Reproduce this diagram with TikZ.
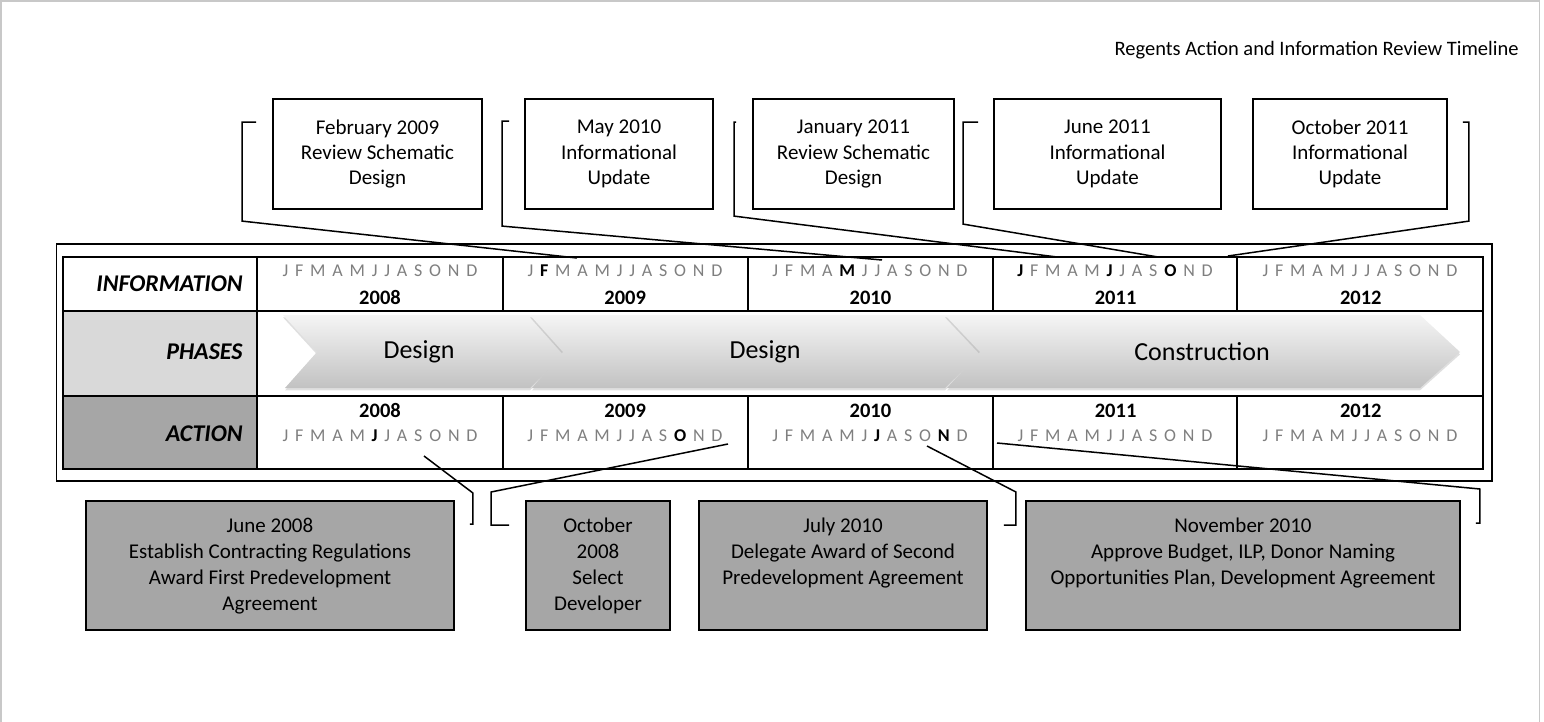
\documentclass[tikz,border=0pt]{standalone}
\usepackage{fontspec}
\setmainfont{Carlito}
\usetikzlibrary{shadows}
\definecolor{mgray}{HTML}{7F7F7F}
\definecolor{actgray}{HTML}{A6A6A6}
\definecolor{phgray}{HTML}{D9D9D9}
\definecolor{framegray}{HTML}{C8C8C8}
% month letters: gray, spaced, highlighted ones bold black
\newcommand\mgap{\hspace{3.4pt}}
\newcommand\mhi[1]{{\color{black}\bfseries #1}}
\newcommand\mrow[1]{\foreach \mth [count=\mno] in {#1}{\ifnum\mno>1 \mgap\fi\mth}}
% action box text, first line at a fixed depth from the top
\newcommand\acttext[2]{\parbox[c][64.5pt][t]{#1}{\centering\rule{0pt}{16pt}#2}}
\tikzset{
  tbl/.style={line width=0.9pt},
  infobox/.style={draw,line width=0.9pt,fill=white,align=center,inner sep=0pt,minimum height=55pt,
    font=\fontsize{10.5}{12.6}\selectfont},
  actbox/.style={draw,line width=0.9pt,fill=actgray,inner sep=0pt,anchor=north,
    font=\fontsize{10.5}{12.9}\selectfont},
  months/.style={font=\fontsize{9}{10}\selectfont,text=mgray,inner sep=0pt},
  yearlbl/.style={font=\fontsize{10.25}{12}\selectfont\bfseries,inner sep=0pt},
  rowlbl/.style={font=\fontsize{12}{14}\selectfont\bfseries\itshape,anchor=east,inner sep=0pt},
  phase/.style={font=\fontsize{13}{15}\selectfont,inner sep=0pt},
  chevron/.style={top color=white!96!black,bottom color=white!76!black,
    drop shadow={shadow xshift=0pt,shadow yshift=-1.2pt,opacity=.25}},
  bracket/.style={line width=0.75pt},
}
\begin{document}
\begin{tikzpicture}[x=0.5pt,y=-0.5pt]
\useasboundingbox (0,0) rectangle (1544,722);
% page frame
\draw[framegray,line width=0.8pt] (1,722) -- (1,1) -- (1539.5,1) -- (1539.5,722);
\node[anchor=base east,inner sep=0pt,font=\fontsize{10.25}{12}\selectfont] (title) at (1519,56) {Regents Action and Information Review Timeline};

% timeline table
\draw[tbl] (56.5,244) rectangle (1492,481);
\fill[phgray] (63,311) rectangle (257,396);
\fill[actgray] (63,396) rectangle (257,469);
\draw[tbl] (63,257) rectangle (1483,469);
\draw[tbl] (63,311) -- (1483,311) (63,396) -- (1483,396) (257,257) -- (257,469);
\foreach \x in {503,748,993,1237} {\draw[tbl] (\x,257) -- (\x,311) (\x,396) -- (\x,469);}
\node[rowlbl] (hinfo) at (243,284) {INFORMATION};
\node[rowlbl] (hphase) at (243,352) {PHASES};
\node[rowlbl] (hact) at (243,434) {ACTION};

% phase chevrons
\path[chevron] (283,315) -- (530,315) -- (567,352) -- (530,388) -- (285,388) -- (317,352) -- cycle;
\path[chevron] (530,315) -- (945,315) -- (982,352) -- (945,388) -- (532,388) -- (563,352) -- cycle;
\path[chevron] (945,315) -- (1420,315) -- (1460,352) -- (1420,388) -- (947,388) -- (980,352) -- cycle;
\node[phase] (ph1) at (419,352) {Design};
\node[phase] (ph2) at (765,352) {Design};
\node[phase] (ph3) at (1202,352) {Construction};

% years and months
\foreach \yr [count=\c from 0] in {2008,2009,2010,2011,2012} {
  \node[yearlbl,anchor=base] (iy\yr) at (380+245.2*\c,305) {\yr};
  \node[yearlbl,anchor=base] (ay\yr) at (380+245.2*\c,417) {\yr};
}
\node[months] (im08) at (380,271) {\mrow{J,F,M,A,M,J,J,A,S,O,N,D}};
\node[months] (im09) at (625,271) {\mrow{J,\mhi{F},M,A,M,J,J,A,S,O,N,D}};
\node[months] (im10) at (870,271) {\mrow{J,F,M,A,\mhi{M},J,J,A,S,O,N,D}};
\node[months] (im11) at (1115,271) {\mrow{\mhi{J},F,M,A,M,\mhi{J},J,A,S,\mhi{O},N,D}};
\node[months] (im12) at (1360,271) {\mrow{J,F,M,A,M,J,J,A,S,O,N,D}};
\node[months] (am08) at (380,436) {\mrow{J,F,M,A,M,\mhi{J},J,A,S,O,N,D}};
\node[months] (am09) at (625,436) {\mrow{J,F,M,A,M,J,J,A,S,\mhi{O},N,D}};
\node[months] (am10) at (870,436) {\mrow{J,F,M,A,M,J,\mhi{J},A,S,O,\mhi{N},D}};
\node[months] (am11) at (1115,436) {\mrow{J,F,M,A,M,J,J,A,S,O,N,D}};
\node[months] (am12) at (1360,436) {\mrow{J,F,M,A,M,J,J,A,S,O,N,D}};

% where the brackets meet the table
\coordinate (mFeb09) at (577,258);
\coordinate (mMay10) at (882,260);
\coordinate (mJan11) at (1057,257);
\coordinate (mJun11) at (1158,257);
\coordinate (mOct11) at (1228,256);
\coordinate (mJun08) at (424,456);
\coordinate (mOct09) at (728,444);
\coordinate (mJul10) at (927,446);
\coordinate (mNov10) at (997,443);

% information boxes
\node[infobox,minimum width=104.5pt] (feb09) at (377.5,154) {February 2009\\Review Schematic\\Design};
\node[infobox,minimum width=94pt] (may10) at (619,154) {May 2010\\Informational\\Update};
\node[infobox,minimum width=100.5pt] (jan11) at (853.5,154) {January 2011\\Review Schematic\\Design};
\node[infobox,minimum width=113.5pt] (jun11) at (1107.5,154) {June 2011\\Informational\\Update};
\node[infobox,minimum width=97pt] (oct11) at (1350,154) {October 2011\\Informational\\Update};
\draw[bracket] ([shift={(-16,24)}]feb09.north west) -- ++(-14,0) -- ++(0,99) -- (mFeb09);
\draw[bracket] ([shift={(-15,23)}]may10.north west) -- ++(-7,0) -- ++(0,105) -- (mMay10);
\draw[bracket] ([shift={(-16,24)}]jan11.north west) -- ++(-2,0) -- ++(0,94) -- (mJan11);
\draw[bracket] ([shift={(-15,24)}]jun11.north west) -- ++(-15,0) -- ++(0,102) -- (mJun11);
\draw[bracket] ([shift={(15,24)}]oct11.north east) -- ++(6,0) -- ++(0,99) -- (mOct11);

% action boxes
\node[actbox] (jun08) at (270,500) {\acttext{184pt}{June 2008\\Establish Contracting Regulations\\Award First Predevelopment\\Agreement}};
\node[actbox] (oct08) at (598,500) {\acttext{72pt}{October\\2008\\Select\\Developer}};
\node[actbox] (jul10) at (843,500) {\acttext{144pt}{July 2010\\Delegate Award of Second\\Predevelopment Agreement}};
\node[actbox] (nov10) at (1243,500) {\acttext{217pt}{November 2010\\Approve Budget, ILP, Donor Naming\\Opportunities Plan, Development Agreement}};
\draw[bracket] ([shift={(15,24)}]jun08.north east) -- ++(3,0) -- ++(0,-31) -- (mJun08);
\draw[bracket] ([shift={(-16,25)}]oct08.north west) -- ++(-18,0) -- ++(0,-33) -- (mOct09);
\draw[bracket] ([shift={(16,25)}]jul10.north east) -- ++(12,0) -- ++(0,-33) -- (mJul10);
\draw[bracket] ([shift={(15,23)}]nov10.north east) -- ++(4,0) -- ++(0,-34) -- (mNov10);
\end{tikzpicture}
\end{document}
